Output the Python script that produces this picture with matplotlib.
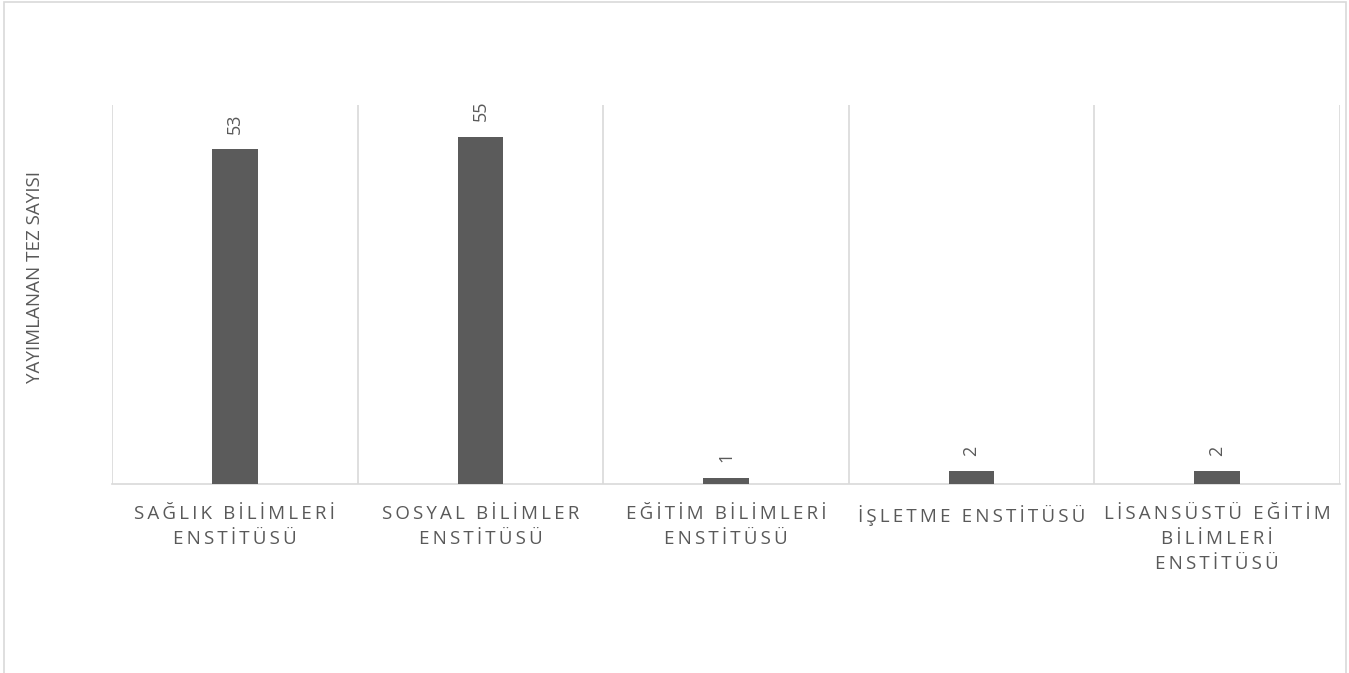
import numpy as np
import matplotlib
matplotlib.use("Agg")
import matplotlib.pyplot as plt
from matplotlib.patches import Rectangle

categories = ["SAĞLIK BİLİMLERİ\nENSTİTÜSÜ",
              "SOSYAL BİLİMLER\nENSTİTÜSÜ",
              "EĞİTİM BİLİMLERİ\nENSTİTÜSÜ",
              "İŞLETME ENSTİTÜSÜ",
              "LİSANSÜSTÜ EĞİTİM\nBİLİMLERİ\nENSTİTÜSÜ"]
values = [53, 55, 1, 2, 2]
ylabel = "YAYIMLANAN TEZ SAYISI"

plt.rcParams['font.family'] = ['Open Sans', 'DejaVu Sans']
grey = "#595959"
light = "#d9d9d9"

# spread letters out a little, like the original axis labels
def spaced(s):
    return "\n".join("\u2009".join(line) for line in s.split("\n"))

fig = plt.figure(figsize=(13.49, 6.73), dpi=100)
fig.patches.append(Rectangle((4 / 1349, -0.1), 1342 / 1349, 1.1 - 2.5 / 673,
                             transform=fig.transFigure, fill=False,
                             edgecolor=light, linewidth=1.2))
ax = fig.add_axes([112 / 1349, 1 - 484 / 673, 1228 / 1349, 379 / 673])

x = np.arange(len(values))
bars = ax.bar(x, values, width=0.185, color="#5b5b5b", zorder=3)

for xi, v in zip(x, values):
    ax.annotate(str(v), (xi, v), xytext=(0, 11), textcoords="offset points",
                rotation=90, ha="center", va="bottom", fontsize=13, color=grey)

ax.set_xlim(-0.5, len(values) - 0.5)
ax.set_ylim(0, 60)
ax.set_xticks(x)
ax.set_xticklabels([spaced(c) for c in categories], fontsize=13.5, color=grey,
                   linespacing=1.5)
ax.set_xticks(np.arange(len(values) + 1) - 0.5, minor=True)
ax.tick_params(axis="x", which="both", length=0, pad=15)
ax.set_yticks([])
ax.grid(axis="x", which="minor", color=light, linewidth=1.2, zorder=0)

for s in ["top", "left", "right"]:
    ax.spines[s].set_visible(False)
ax.spines["bottom"].set_color(light)
ax.spines["bottom"].set_linewidth(1.2)

fig.text(35 / 1349, 1 - 277 / 673, ylabel, rotation=90, ha="center", va="center",
         fontsize=13.5, color=grey)

fig.savefig("out.png", dpi=100)
